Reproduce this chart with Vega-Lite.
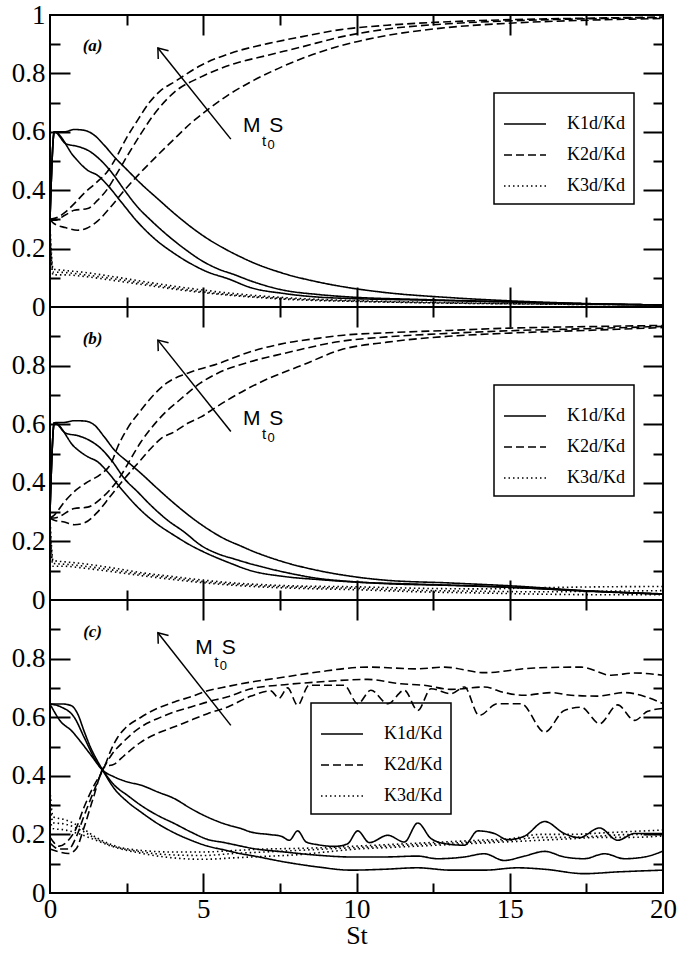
{
"$schema":"https://vega.github.io/schema/vega-lite/v6.json",
"padding":{"left":5,"top":0,"right":0,"bottom":0},
"data":{"values":[
{"p":"a","k":"K1d/Kd","c":"a1","x":0,"y":0.3},{"p":"a","k":"K1d/Kd","c":"a1","x":0.14,"y":0.6},{"p":"a","k":"K1d/Kd","c":"a1","x":0.47,"y":0.6},{"p":"a","k":"K1d/Kd","c":"a1","x":0.79,"y":0.608},{"p":"a","k":"K1d/Kd","c":"a1","x":1.12,"y":0.605},{"p":"a","k":"K1d/Kd","c":"a1","x":1.45,"y":0.588},{"p":"a","k":"K1d/Kd","c":"a1","x":1.77,"y":0.554},{"p":"a","k":"K1d/Kd","c":"a1","x":2.1,"y":0.514},{"p":"a","k":"K1d/Kd","c":"a1","x":2.53,"y":0.468},{"p":"a","k":"K1d/Kd","c":"a1","x":2.97,"y":0.422},{"p":"a","k":"K1d/Kd","c":"a1","x":3.51,"y":0.371},{"p":"a","k":"K1d/Kd","c":"a1","x":4.06,"y":0.32},{"p":"a","k":"K1d/Kd","c":"a1","x":4.6,"y":0.274},{"p":"a","k":"K1d/Kd","c":"a1","x":5.14,"y":0.234},{"p":"a","k":"K1d/Kd","c":"a1","x":5.69,"y":0.2},{"p":"a","k":"K1d/Kd","c":"a1","x":6.23,"y":0.171},{"p":"a","k":"K1d/Kd","c":"a1","x":6.56,"y":0.155},{"p":"a","k":"K1d/Kd","c":"a1","x":7.65,"y":0.114},{"p":"a","k":"K1d/Kd","c":"a1","x":8.73,"y":0.086},{"p":"a","k":"K1d/Kd","c":"a1","x":9.82,"y":0.065},{"p":"a","k":"K1d/Kd","c":"a1","x":10.9,"y":0.05},{"p":"a","k":"K1d/Kd","c":"a1","x":13.08,"y":0.032},{"p":"a","k":"K1d/Kd","c":"a1","x":15.26,"y":0.02},{"p":"a","k":"K1d/Kd","c":"a1","x":17.43,"y":0.012},{"p":"a","k":"K1d/Kd","c":"a1","x":20,"y":0.007},
{"p":"a","k":"K1d/Kd","c":"a2","x":0,"y":0.3},{"p":"a","k":"K1d/Kd","c":"a2","x":0.14,"y":0.6},{"p":"a","k":"K1d/Kd","c":"a2","x":0.52,"y":0.559},{"p":"a","k":"K1d/Kd","c":"a2","x":0.9,"y":0.55},{"p":"a","k":"K1d/Kd","c":"a2","x":1.23,"y":0.537},{"p":"a","k":"K1d/Kd","c":"a2","x":1.66,"y":0.502},{"p":"a","k":"K1d/Kd","c":"a2","x":2.04,"y":0.457},{"p":"a","k":"K1d/Kd","c":"a2","x":2.43,"y":0.4},{"p":"a","k":"K1d/Kd","c":"a2","x":2.86,"y":0.342},{"p":"a","k":"K1d/Kd","c":"a2","x":3.29,"y":0.297},{"p":"a","k":"K1d/Kd","c":"a2","x":3.84,"y":0.245},{"p":"a","k":"K1d/Kd","c":"a2","x":4.38,"y":0.2},{"p":"a","k":"K1d/Kd","c":"a2","x":4.93,"y":0.16},{"p":"a","k":"K1d/Kd","c":"a2","x":5.47,"y":0.131},{"p":"a","k":"K1d/Kd","c":"a2","x":6.01,"y":0.111},{"p":"a","k":"K1d/Kd","c":"a2","x":6.56,"y":0.089},{"p":"a","k":"K1d/Kd","c":"a2","x":7.65,"y":0.057},{"p":"a","k":"K1d/Kd","c":"a2","x":8.73,"y":0.043},{"p":"a","k":"K1d/Kd","c":"a2","x":9.82,"y":0.034},{"p":"a","k":"K1d/Kd","c":"a2","x":12,"y":0.026},{"p":"a","k":"K1d/Kd","c":"a2","x":15,"y":0.018},{"p":"a","k":"K1d/Kd","c":"a2","x":17.5,"y":0.011},{"p":"a","k":"K1d/Kd","c":"a2","x":20,"y":0.007},
{"p":"a","k":"K1d/Kd","c":"a3","x":0,"y":0.3},{"p":"a","k":"K1d/Kd","c":"a3","x":0.14,"y":0.6},{"p":"a","k":"K1d/Kd","c":"a3","x":0.79,"y":0.514},{"p":"a","k":"K1d/Kd","c":"a3","x":1.23,"y":0.468},{"p":"a","k":"K1d/Kd","c":"a3","x":1.55,"y":0.451},{"p":"a","k":"K1d/Kd","c":"a3","x":1.88,"y":0.417},{"p":"a","k":"K1d/Kd","c":"a3","x":2.32,"y":0.36},{"p":"a","k":"K1d/Kd","c":"a3","x":2.86,"y":0.291},{"p":"a","k":"K1d/Kd","c":"a3","x":3.41,"y":0.234},{"p":"a","k":"K1d/Kd","c":"a3","x":4.06,"y":0.183},{"p":"a","k":"K1d/Kd","c":"a3","x":4.6,"y":0.148},{"p":"a","k":"K1d/Kd","c":"a3","x":5.14,"y":0.12},{"p":"a","k":"K1d/Kd","c":"a3","x":5.8,"y":0.097},{"p":"a","k":"K1d/Kd","c":"a3","x":6.56,"y":0.066},{"p":"a","k":"K1d/Kd","c":"a3","x":7.65,"y":0.046},{"p":"a","k":"K1d/Kd","c":"a3","x":8.73,"y":0.034},{"p":"a","k":"K1d/Kd","c":"a3","x":9.82,"y":0.029},{"p":"a","k":"K1d/Kd","c":"a3","x":12,"y":0.024},{"p":"a","k":"K1d/Kd","c":"a3","x":15,"y":0.017},{"p":"a","k":"K1d/Kd","c":"a3","x":17.5,"y":0.011},{"p":"a","k":"K1d/Kd","c":"a3","x":20,"y":0.007},
{"p":"a","k":"K2d/Kd","c":"a4","x":0,"y":0.3},{"p":"a","k":"K2d/Kd","c":"a4","x":0.3,"y":0.31},{"p":"a","k":"K2d/Kd","c":"a4","x":0.5,"y":0.325},{"p":"a","k":"K2d/Kd","c":"a4","x":0.8,"y":0.355},{"p":"a","k":"K2d/Kd","c":"a4","x":1.12,"y":0.39},{"p":"a","k":"K2d/Kd","c":"a4","x":1.5,"y":0.425},{"p":"a","k":"K2d/Kd","c":"a4","x":1.88,"y":0.465},{"p":"a","k":"K2d/Kd","c":"a4","x":2.15,"y":0.51},{"p":"a","k":"K2d/Kd","c":"a4","x":2.48,"y":0.576},{"p":"a","k":"K2d/Kd","c":"a4","x":2.86,"y":0.64},{"p":"a","k":"K2d/Kd","c":"a4","x":3.24,"y":0.7},{"p":"a","k":"K2d/Kd","c":"a4","x":3.6,"y":0.74},{"p":"a","k":"K2d/Kd","c":"a4","x":4.06,"y":0.771},{"p":"a","k":"K2d/Kd","c":"a4","x":4.93,"y":0.828},{"p":"a","k":"K2d/Kd","c":"a4","x":6.01,"y":0.873},{"p":"a","k":"K2d/Kd","c":"a4","x":7.1,"y":0.902},{"p":"a","k":"K2d/Kd","c":"a4","x":8.19,"y":0.925},{"p":"a","k":"K2d/Kd","c":"a4","x":9.49,"y":0.95},{"p":"a","k":"K2d/Kd","c":"a4","x":11,"y":0.965},{"p":"a","k":"K2d/Kd","c":"a4","x":13,"y":0.977},{"p":"a","k":"K2d/Kd","c":"a4","x":15,"y":0.984},{"p":"a","k":"K2d/Kd","c":"a4","x":17.5,"y":0.989},{"p":"a","k":"K2d/Kd","c":"a4","x":20,"y":0.993},
{"p":"a","k":"K2d/Kd","c":"a5","x":0,"y":0.3},{"p":"a","k":"K2d/Kd","c":"a5","x":0.14,"y":0.297},{"p":"a","k":"K2d/Kd","c":"a5","x":0.5,"y":0.315},{"p":"a","k":"K2d/Kd","c":"a5","x":0.79,"y":0.331},{"p":"a","k":"K2d/Kd","c":"a5","x":1.23,"y":0.337},{"p":"a","k":"K2d/Kd","c":"a5","x":1.55,"y":0.365},{"p":"a","k":"K2d/Kd","c":"a5","x":1.88,"y":0.405},{"p":"a","k":"K2d/Kd","c":"a5","x":2.21,"y":0.462},{"p":"a","k":"K2d/Kd","c":"a5","x":2.53,"y":0.519},{"p":"a","k":"K2d/Kd","c":"a5","x":2.97,"y":0.594},{"p":"a","k":"K2d/Kd","c":"a5","x":3.41,"y":0.662},{"p":"a","k":"K2d/Kd","c":"a5","x":4.06,"y":0.736},{"p":"a","k":"K2d/Kd","c":"a5","x":4.93,"y":0.788},{"p":"a","k":"K2d/Kd","c":"a5","x":6.01,"y":0.833},{"p":"a","k":"K2d/Kd","c":"a5","x":7.1,"y":0.862},{"p":"a","k":"K2d/Kd","c":"a5","x":8.19,"y":0.89},{"p":"a","k":"K2d/Kd","c":"a5","x":9.49,"y":0.925},{"p":"a","k":"K2d/Kd","c":"a5","x":11,"y":0.952},{"p":"a","k":"K2d/Kd","c":"a5","x":13,"y":0.97},{"p":"a","k":"K2d/Kd","c":"a5","x":15,"y":0.98},{"p":"a","k":"K2d/Kd","c":"a5","x":17.5,"y":0.987},{"p":"a","k":"K2d/Kd","c":"a5","x":20,"y":0.991},
{"p":"a","k":"K2d/Kd","c":"a6","x":0,"y":0.3},{"p":"a","k":"K2d/Kd","c":"a6","x":0.14,"y":0.285},{"p":"a","k":"K2d/Kd","c":"a6","x":0.5,"y":0.272},{"p":"a","k":"K2d/Kd","c":"a6","x":0.9,"y":0.263},{"p":"a","k":"K2d/Kd","c":"a6","x":1.2,"y":0.27},{"p":"a","k":"K2d/Kd","c":"a6","x":1.56,"y":0.295},{"p":"a","k":"K2d/Kd","c":"a6","x":2,"y":0.345},{"p":"a","k":"K2d/Kd","c":"a6","x":2.43,"y":0.4},{"p":"a","k":"K2d/Kd","c":"a6","x":2.86,"y":0.45},{"p":"a","k":"K2d/Kd","c":"a6","x":3.4,"y":0.508},{"p":"a","k":"K2d/Kd","c":"a6","x":4,"y":0.57},{"p":"a","k":"K2d/Kd","c":"a6","x":4.6,"y":0.63},{"p":"a","k":"K2d/Kd","c":"a6","x":5.2,"y":0.68},{"p":"a","k":"K2d/Kd","c":"a6","x":5.8,"y":0.725},{"p":"a","k":"K2d/Kd","c":"a6","x":6.5,"y":0.768},{"p":"a","k":"K2d/Kd","c":"a6","x":7.3,"y":0.81},{"p":"a","k":"K2d/Kd","c":"a6","x":8.2,"y":0.85},{"p":"a","k":"K2d/Kd","c":"a6","x":9.49,"y":0.895},{"p":"a","k":"K2d/Kd","c":"a6","x":11,"y":0.93},{"p":"a","k":"K2d/Kd","c":"a6","x":12.76,"y":0.955},{"p":"a","k":"K2d/Kd","c":"a6","x":15,"y":0.972},{"p":"a","k":"K2d/Kd","c":"a6","x":17.5,"y":0.982},{"p":"a","k":"K2d/Kd","c":"a6","x":20,"y":0.988},
{"p":"a","k":"K3d/Kd","c":"a7","x":0,"y":0.28},{"p":"a","k":"K3d/Kd","c":"a7","x":0.1,"y":0.13},{"p":"a","k":"K3d/Kd","c":"a7","x":0.5,"y":0.125},{"p":"a","k":"K3d/Kd","c":"a7","x":1,"y":0.12},{"p":"a","k":"K3d/Kd","c":"a7","x":2,"y":0.105},{"p":"a","k":"K3d/Kd","c":"a7","x":3,"y":0.088},{"p":"a","k":"K3d/Kd","c":"a7","x":4,"y":0.072},{"p":"a","k":"K3d/Kd","c":"a7","x":5,"y":0.058},{"p":"a","k":"K3d/Kd","c":"a7","x":6,"y":0.046},{"p":"a","k":"K3d/Kd","c":"a7","x":7,"y":0.037},{"p":"a","k":"K3d/Kd","c":"a7","x":8,"y":0.03},{"p":"a","k":"K3d/Kd","c":"a7","x":10,"y":0.022},{"p":"a","k":"K3d/Kd","c":"a7","x":12,"y":0.017},{"p":"a","k":"K3d/Kd","c":"a7","x":15,"y":0.012},{"p":"a","k":"K3d/Kd","c":"a7","x":20,"y":0.007},
{"p":"a","k":"K3d/Kd","c":"a8","x":0,"y":0.26},{"p":"a","k":"K3d/Kd","c":"a8","x":0.1,"y":0.12},{"p":"a","k":"K3d/Kd","c":"a8","x":0.5,"y":0.118},{"p":"a","k":"K3d/Kd","c":"a8","x":1,"y":0.112},{"p":"a","k":"K3d/Kd","c":"a8","x":2,"y":0.098},{"p":"a","k":"K3d/Kd","c":"a8","x":3,"y":0.082},{"p":"a","k":"K3d/Kd","c":"a8","x":4,"y":0.066},{"p":"a","k":"K3d/Kd","c":"a8","x":5,"y":0.052},{"p":"a","k":"K3d/Kd","c":"a8","x":6,"y":0.041},{"p":"a","k":"K3d/Kd","c":"a8","x":7,"y":0.033},{"p":"a","k":"K3d/Kd","c":"a8","x":8,"y":0.027},{"p":"a","k":"K3d/Kd","c":"a8","x":10,"y":0.02},{"p":"a","k":"K3d/Kd","c":"a8","x":12,"y":0.015},{"p":"a","k":"K3d/Kd","c":"a8","x":15,"y":0.011},{"p":"a","k":"K3d/Kd","c":"a8","x":20,"y":0.007},
{"p":"a","k":"K3d/Kd","c":"a9","x":0,"y":0.24},{"p":"a","k":"K3d/Kd","c":"a9","x":0.1,"y":0.11},{"p":"a","k":"K3d/Kd","c":"a9","x":0.5,"y":0.11},{"p":"a","k":"K3d/Kd","c":"a9","x":1,"y":0.106},{"p":"a","k":"K3d/Kd","c":"a9","x":2,"y":0.092},{"p":"a","k":"K3d/Kd","c":"a9","x":3,"y":0.077},{"p":"a","k":"K3d/Kd","c":"a9","x":4,"y":0.062},{"p":"a","k":"K3d/Kd","c":"a9","x":5,"y":0.049},{"p":"a","k":"K3d/Kd","c":"a9","x":6,"y":0.039},{"p":"a","k":"K3d/Kd","c":"a9","x":7,"y":0.031},{"p":"a","k":"K3d/Kd","c":"a9","x":8,"y":0.025},{"p":"a","k":"K3d/Kd","c":"a9","x":10,"y":0.019},{"p":"a","k":"K3d/Kd","c":"a9","x":12,"y":0.015},{"p":"a","k":"K3d/Kd","c":"a9","x":15,"y":0.011},{"p":"a","k":"K3d/Kd","c":"a9","x":20,"y":0.007},
{"p":"b","k":"K1d/Kd","c":"b1","x":0,"y":0.3},{"p":"b","k":"K1d/Kd","c":"b1","x":0.14,"y":0.605},{"p":"b","k":"K1d/Kd","c":"b1","x":0.47,"y":0.606},{"p":"b","k":"K1d/Kd","c":"b1","x":0.79,"y":0.612},{"p":"b","k":"K1d/Kd","c":"b1","x":1.12,"y":0.611},{"p":"b","k":"K1d/Kd","c":"b1","x":1.45,"y":0.597},{"p":"b","k":"K1d/Kd","c":"b1","x":1.77,"y":0.557},{"p":"b","k":"K1d/Kd","c":"b1","x":2.1,"y":0.512},{"p":"b","k":"K1d/Kd","c":"b1","x":2.53,"y":0.472},{"p":"b","k":"K1d/Kd","c":"b1","x":2.97,"y":0.432},{"p":"b","k":"K1d/Kd","c":"b1","x":3.51,"y":0.38},{"p":"b","k":"K1d/Kd","c":"b1","x":4.06,"y":0.329},{"p":"b","k":"K1d/Kd","c":"b1","x":4.6,"y":0.283},{"p":"b","k":"K1d/Kd","c":"b1","x":5.14,"y":0.243},{"p":"b","k":"K1d/Kd","c":"b1","x":5.69,"y":0.209},{"p":"b","k":"K1d/Kd","c":"b1","x":6.23,"y":0.184},{"p":"b","k":"K1d/Kd","c":"b1","x":6.56,"y":0.169},{"p":"b","k":"K1d/Kd","c":"b1","x":7.65,"y":0.129},{"p":"b","k":"K1d/Kd","c":"b1","x":8.73,"y":0.101},{"p":"b","k":"K1d/Kd","c":"b1","x":9.82,"y":0.081},{"p":"b","k":"K1d/Kd","c":"b1","x":10.9,"y":0.068},{"p":"b","k":"K1d/Kd","c":"b1","x":13.08,"y":0.058},{"p":"b","k":"K1d/Kd","c":"b1","x":15.26,"y":0.047},{"p":"b","k":"K1d/Kd","c":"b1","x":17.43,"y":0.032},{"p":"b","k":"K1d/Kd","c":"b1","x":20,"y":0.021},
{"p":"b","k":"K1d/Kd","c":"b2","x":0,"y":0.3},{"p":"b","k":"K1d/Kd","c":"b2","x":0.14,"y":0.605},{"p":"b","k":"K1d/Kd","c":"b2","x":0.52,"y":0.569},{"p":"b","k":"K1d/Kd","c":"b2","x":0.9,"y":0.561},{"p":"b","k":"K1d/Kd","c":"b2","x":1.23,"y":0.548},{"p":"b","k":"K1d/Kd","c":"b2","x":1.66,"y":0.517},{"p":"b","k":"K1d/Kd","c":"b2","x":2.04,"y":0.472},{"p":"b","k":"K1d/Kd","c":"b2","x":2.43,"y":0.414},{"p":"b","k":"K1d/Kd","c":"b2","x":2.86,"y":0.369},{"p":"b","k":"K1d/Kd","c":"b2","x":3.29,"y":0.323},{"p":"b","k":"K1d/Kd","c":"b2","x":3.84,"y":0.272},{"p":"b","k":"K1d/Kd","c":"b2","x":4.38,"y":0.232},{"p":"b","k":"K1d/Kd","c":"b2","x":4.93,"y":0.186},{"p":"b","k":"K1d/Kd","c":"b2","x":5.47,"y":0.158},{"p":"b","k":"K1d/Kd","c":"b2","x":6.01,"y":0.14},{"p":"b","k":"K1d/Kd","c":"b2","x":6.56,"y":0.123},{"p":"b","k":"K1d/Kd","c":"b2","x":7.65,"y":0.095},{"p":"b","k":"K1d/Kd","c":"b2","x":8.73,"y":0.074},{"p":"b","k":"K1d/Kd","c":"b2","x":9.82,"y":0.063},{"p":"b","k":"K1d/Kd","c":"b2","x":10.9,"y":0.056},{"p":"b","k":"K1d/Kd","c":"b2","x":13,"y":0.05},{"p":"b","k":"K1d/Kd","c":"b2","x":15,"y":0.043},{"p":"b","k":"K1d/Kd","c":"b2","x":17.5,"y":0.031},{"p":"b","k":"K1d/Kd","c":"b2","x":20,"y":0.02},
{"p":"b","k":"K1d/Kd","c":"b3","x":0,"y":0.3},{"p":"b","k":"K1d/Kd","c":"b3","x":0.14,"y":0.605},{"p":"b","k":"K1d/Kd","c":"b3","x":0.79,"y":0.523},{"p":"b","k":"K1d/Kd","c":"b3","x":1.23,"y":0.489},{"p":"b","k":"K1d/Kd","c":"b3","x":1.55,"y":0.472},{"p":"b","k":"K1d/Kd","c":"b3","x":1.88,"y":0.437},{"p":"b","k":"K1d/Kd","c":"b3","x":2.32,"y":0.38},{"p":"b","k":"K1d/Kd","c":"b3","x":2.86,"y":0.317},{"p":"b","k":"K1d/Kd","c":"b3","x":3.41,"y":0.266},{"p":"b","k":"K1d/Kd","c":"b3","x":4.06,"y":0.22},{"p":"b","k":"K1d/Kd","c":"b3","x":4.6,"y":0.186},{"p":"b","k":"K1d/Kd","c":"b3","x":5.14,"y":0.158},{"p":"b","k":"K1d/Kd","c":"b3","x":5.8,"y":0.129},{"p":"b","k":"K1d/Kd","c":"b3","x":6.56,"y":0.1},{"p":"b","k":"K1d/Kd","c":"b3","x":7.65,"y":0.08},{"p":"b","k":"K1d/Kd","c":"b3","x":8.73,"y":0.07},{"p":"b","k":"K1d/Kd","c":"b3","x":9.82,"y":0.062},{"p":"b","k":"K1d/Kd","c":"b3","x":12,"y":0.054},{"p":"b","k":"K1d/Kd","c":"b3","x":15,"y":0.044},{"p":"b","k":"K1d/Kd","c":"b3","x":17.5,"y":0.03},{"p":"b","k":"K1d/Kd","c":"b3","x":20,"y":0.02},
{"p":"b","k":"K2d/Kd","c":"b4","x":0,"y":0.28},{"p":"b","k":"K2d/Kd","c":"b4","x":0.14,"y":0.29},{"p":"b","k":"K2d/Kd","c":"b4","x":0.47,"y":0.335},{"p":"b","k":"K2d/Kd","c":"b4","x":0.79,"y":0.37},{"p":"b","k":"K2d/Kd","c":"b4","x":1.23,"y":0.403},{"p":"b","k":"K2d/Kd","c":"b4","x":1.66,"y":0.43},{"p":"b","k":"K2d/Kd","c":"b4","x":1.99,"y":0.466},{"p":"b","k":"K2d/Kd","c":"b4","x":2.21,"y":0.523},{"p":"b","k":"K2d/Kd","c":"b4","x":2.53,"y":0.586},{"p":"b","k":"K2d/Kd","c":"b4","x":2.97,"y":0.648},{"p":"b","k":"K2d/Kd","c":"b4","x":3.41,"y":0.703},{"p":"b","k":"K2d/Kd","c":"b4","x":3.8,"y":0.74},{"p":"b","k":"K2d/Kd","c":"b4","x":4.49,"y":0.774},{"p":"b","k":"K2d/Kd","c":"b4","x":5.47,"y":0.806},{"p":"b","k":"K2d/Kd","c":"b4","x":6.56,"y":0.848},{"p":"b","k":"K2d/Kd","c":"b4","x":7.65,"y":0.876},{"p":"b","k":"K2d/Kd","c":"b4","x":8.73,"y":0.893},{"p":"b","k":"K2d/Kd","c":"b4","x":9.49,"y":0.903},{"p":"b","k":"K2d/Kd","c":"b4","x":11,"y":0.912},{"p":"b","k":"K2d/Kd","c":"b4","x":13,"y":0.92},{"p":"b","k":"K2d/Kd","c":"b4","x":15,"y":0.928},{"p":"b","k":"K2d/Kd","c":"b4","x":17.5,"y":0.933},{"p":"b","k":"K2d/Kd","c":"b4","x":20,"y":0.937},
{"p":"b","k":"K2d/Kd","c":"b5","x":0,"y":0.28},{"p":"b","k":"K2d/Kd","c":"b5","x":0.14,"y":0.28},{"p":"b","k":"K2d/Kd","c":"b5","x":0.79,"y":0.312},{"p":"b","k":"K2d/Kd","c":"b5","x":1.23,"y":0.317},{"p":"b","k":"K2d/Kd","c":"b5","x":1.66,"y":0.346},{"p":"b","k":"K2d/Kd","c":"b5","x":1.99,"y":0.38},{"p":"b","k":"K2d/Kd","c":"b5","x":2.32,"y":0.426},{"p":"b","k":"K2d/Kd","c":"b5","x":2.64,"y":0.483},{"p":"b","k":"K2d/Kd","c":"b5","x":2.97,"y":0.54},{"p":"b","k":"K2d/Kd","c":"b5","x":3.29,"y":0.585},{"p":"b","k":"K2d/Kd","c":"b5","x":3.73,"y":0.637},{"p":"b","k":"K2d/Kd","c":"b5","x":4.2,"y":0.68},{"p":"b","k":"K2d/Kd","c":"b5","x":4.9,"y":0.74},{"p":"b","k":"K2d/Kd","c":"b5","x":5.47,"y":0.774},{"p":"b","k":"K2d/Kd","c":"b5","x":6.56,"y":0.814},{"p":"b","k":"K2d/Kd","c":"b5","x":7.65,"y":0.842},{"p":"b","k":"K2d/Kd","c":"b5","x":9.49,"y":0.883},{"p":"b","k":"K2d/Kd","c":"b5","x":11,"y":0.898},{"p":"b","k":"K2d/Kd","c":"b5","x":13,"y":0.91},{"p":"b","k":"K2d/Kd","c":"b5","x":15,"y":0.919},{"p":"b","k":"K2d/Kd","c":"b5","x":17.5,"y":0.926},{"p":"b","k":"K2d/Kd","c":"b5","x":20,"y":0.934},
{"p":"b","k":"K2d/Kd","c":"b6","x":0,"y":0.28},{"p":"b","k":"K2d/Kd","c":"b6","x":0.14,"y":0.272},{"p":"b","k":"K2d/Kd","c":"b6","x":0.47,"y":0.266},{"p":"b","k":"K2d/Kd","c":"b6","x":0.79,"y":0.257},{"p":"b","k":"K2d/Kd","c":"b6","x":1.12,"y":0.263},{"p":"b","k":"K2d/Kd","c":"b6","x":1.55,"y":0.3},{"p":"b","k":"K2d/Kd","c":"b6","x":1.99,"y":0.357},{"p":"b","k":"K2d/Kd","c":"b6","x":2.43,"y":0.414},{"p":"b","k":"K2d/Kd","c":"b6","x":2.86,"y":0.466},{"p":"b","k":"K2d/Kd","c":"b6","x":3.29,"y":0.517},{"p":"b","k":"K2d/Kd","c":"b6","x":3.62,"y":0.551},{"p":"b","k":"K2d/Kd","c":"b6","x":4.06,"y":0.574},{"p":"b","k":"K2d/Kd","c":"b6","x":4.49,"y":0.603},{"p":"b","k":"K2d/Kd","c":"b6","x":4.93,"y":0.625},{"p":"b","k":"K2d/Kd","c":"b6","x":5.36,"y":0.654},{"p":"b","k":"K2d/Kd","c":"b6","x":5.8,"y":0.683},{"p":"b","k":"K2d/Kd","c":"b6","x":7,"y":0.75},{"p":"b","k":"K2d/Kd","c":"b6","x":8.2,"y":0.8},{"p":"b","k":"K2d/Kd","c":"b6","x":9.49,"y":0.854},{"p":"b","k":"K2d/Kd","c":"b6","x":11,"y":0.88},{"p":"b","k":"K2d/Kd","c":"b6","x":13,"y":0.9},{"p":"b","k":"K2d/Kd","c":"b6","x":15,"y":0.911},{"p":"b","k":"K2d/Kd","c":"b6","x":17.5,"y":0.92},{"p":"b","k":"K2d/Kd","c":"b6","x":20,"y":0.93},
{"p":"b","k":"K3d/Kd","c":"b7","x":0,"y":0.28},{"p":"b","k":"K3d/Kd","c":"b7","x":0.1,"y":0.135},{"p":"b","k":"K3d/Kd","c":"b7","x":0.5,"y":0.13},{"p":"b","k":"K3d/Kd","c":"b7","x":1,"y":0.125},{"p":"b","k":"K3d/Kd","c":"b7","x":2,"y":0.11},{"p":"b","k":"K3d/Kd","c":"b7","x":3,"y":0.093},{"p":"b","k":"K3d/Kd","c":"b7","x":4,"y":0.08},{"p":"b","k":"K3d/Kd","c":"b7","x":5,"y":0.068},{"p":"b","k":"K3d/Kd","c":"b7","x":6,"y":0.058},{"p":"b","k":"K3d/Kd","c":"b7","x":7,"y":0.052},{"p":"b","k":"K3d/Kd","c":"b7","x":8,"y":0.048},{"p":"b","k":"K3d/Kd","c":"b7","x":10,"y":0.045},{"p":"b","k":"K3d/Kd","c":"b7","x":12,"y":0.04},{"p":"b","k":"K3d/Kd","c":"b7","x":14,"y":0.038},{"p":"b","k":"K3d/Kd","c":"b7","x":16,"y":0.042},{"p":"b","k":"K3d/Kd","c":"b7","x":18,"y":0.045},{"p":"b","k":"K3d/Kd","c":"b7","x":20,"y":0.046},
{"p":"b","k":"K3d/Kd","c":"b8","x":0,"y":0.26},{"p":"b","k":"K3d/Kd","c":"b8","x":0.1,"y":0.125},{"p":"b","k":"K3d/Kd","c":"b8","x":0.5,"y":0.122},{"p":"b","k":"K3d/Kd","c":"b8","x":1,"y":0.117},{"p":"b","k":"K3d/Kd","c":"b8","x":2,"y":0.103},{"p":"b","k":"K3d/Kd","c":"b8","x":3,"y":0.088},{"p":"b","k":"K3d/Kd","c":"b8","x":4,"y":0.075},{"p":"b","k":"K3d/Kd","c":"b8","x":5,"y":0.063},{"p":"b","k":"K3d/Kd","c":"b8","x":6,"y":0.054},{"p":"b","k":"K3d/Kd","c":"b8","x":7,"y":0.048},{"p":"b","k":"K3d/Kd","c":"b8","x":8,"y":0.044},{"p":"b","k":"K3d/Kd","c":"b8","x":10,"y":0.04},{"p":"b","k":"K3d/Kd","c":"b8","x":12,"y":0.033},{"p":"b","k":"K3d/Kd","c":"b8","x":14,"y":0.03},{"p":"b","k":"K3d/Kd","c":"b8","x":16,"y":0.028},{"p":"b","k":"K3d/Kd","c":"b8","x":18,"y":0.03},{"p":"b","k":"K3d/Kd","c":"b8","x":20,"y":0.032},
{"p":"b","k":"K3d/Kd","c":"b9","x":0,"y":0.24},{"p":"b","k":"K3d/Kd","c":"b9","x":0.1,"y":0.115},{"p":"b","k":"K3d/Kd","c":"b9","x":0.5,"y":0.115},{"p":"b","k":"K3d/Kd","c":"b9","x":1,"y":0.11},{"p":"b","k":"K3d/Kd","c":"b9","x":2,"y":0.097},{"p":"b","k":"K3d/Kd","c":"b9","x":3,"y":0.083},{"p":"b","k":"K3d/Kd","c":"b9","x":4,"y":0.07},{"p":"b","k":"K3d/Kd","c":"b9","x":5,"y":0.059},{"p":"b","k":"K3d/Kd","c":"b9","x":6,"y":0.05},{"p":"b","k":"K3d/Kd","c":"b9","x":7,"y":0.044},{"p":"b","k":"K3d/Kd","c":"b9","x":8,"y":0.04},{"p":"b","k":"K3d/Kd","c":"b9","x":10,"y":0.035},{"p":"b","k":"K3d/Kd","c":"b9","x":12,"y":0.028},{"p":"b","k":"K3d/Kd","c":"b9","x":14,"y":0.024},{"p":"b","k":"K3d/Kd","c":"b9","x":16,"y":0.02},{"p":"b","k":"K3d/Kd","c":"b9","x":18,"y":0.018},{"p":"b","k":"K3d/Kd","c":"b9","x":20,"y":0.018},
{"p":"c","k":"K1d/Kd","c":"c1","x":0,"y":0.645},{"p":"c","k":"K1d/Kd","c":"c1","x":0.4,"y":0.645},{"p":"c","k":"K1d/Kd","c":"c1","x":0.685,"y":0.64},{"p":"c","k":"K1d/Kd","c":"c1","x":0.9,"y":0.612},{"p":"c","k":"K1d/Kd","c":"c1","x":1.12,"y":0.55},{"p":"c","k":"K1d/Kd","c":"c1","x":1.34,"y":0.493},{"p":"c","k":"K1d/Kd","c":"c1","x":1.55,"y":0.45},{"p":"c","k":"K1d/Kd","c":"c1","x":1.72,"y":0.419},{"p":"c","k":"K1d/Kd","c":"c1","x":2.1,"y":0.356},{"p":"c","k":"K1d/Kd","c":"c1","x":2.53,"y":0.311},{"p":"c","k":"K1d/Kd","c":"c1","x":2.97,"y":0.276},{"p":"c","k":"K1d/Kd","c":"c1","x":3.51,"y":0.237},{"p":"c","k":"K1d/Kd","c":"c1","x":4.06,"y":0.205},{"p":"c","k":"K1d/Kd","c":"c1","x":4.6,"y":0.18},{"p":"c","k":"K1d/Kd","c":"c1","x":5.14,"y":0.16},{"p":"c","k":"K1d/Kd","c":"c1","x":5.69,"y":0.147},{"p":"c","k":"K1d/Kd","c":"c1","x":6.23,"y":0.134},{"p":"c","k":"K1d/Kd","c":"c1","x":6.56,"y":0.128},{"p":"c","k":"K1d/Kd","c":"c1","x":7.65,"y":0.106},{"p":"c","k":"K1d/Kd","c":"c1","x":8.73,"y":0.089},{"p":"c","k":"K1d/Kd","c":"c1","x":9.82,"y":0.078},{"p":"c","k":"K1d/Kd","c":"c1","x":10.9,"y":0.081},{"p":"c","k":"K1d/Kd","c":"c1","x":11.99,"y":0.086},{"p":"c","k":"K1d/Kd","c":"c1","x":13.08,"y":0.078},{"p":"c","k":"K1d/Kd","c":"c1","x":14.17,"y":0.078},{"p":"c","k":"K1d/Kd","c":"c1","x":15.26,"y":0.086},{"p":"c","k":"K1d/Kd","c":"c1","x":16.14,"y":0.081},{"p":"c","k":"K1d/Kd","c":"c1","x":17.43,"y":0.066},{"p":"c","k":"K1d/Kd","c":"c1","x":18.52,"y":0.072},{"p":"c","k":"K1d/Kd","c":"c1","x":20,"y":0.078},
{"p":"c","k":"K1d/Kd","c":"c2","x":0,"y":0.645},{"p":"c","k":"K1d/Kd","c":"c2","x":0.36,"y":0.635},{"p":"c","k":"K1d/Kd","c":"c2","x":0.79,"y":0.6},{"p":"c","k":"K1d/Kd","c":"c2","x":1.12,"y":0.53},{"p":"c","k":"K1d/Kd","c":"c2","x":1.45,"y":0.46},{"p":"c","k":"K1d/Kd","c":"c2","x":1.72,"y":0.419},{"p":"c","k":"K1d/Kd","c":"c2","x":2.1,"y":0.368},{"p":"c","k":"K1d/Kd","c":"c2","x":2.53,"y":0.333},{"p":"c","k":"K1d/Kd","c":"c2","x":2.97,"y":0.299},{"p":"c","k":"K1d/Kd","c":"c2","x":3.51,"y":0.265},{"p":"c","k":"K1d/Kd","c":"c2","x":4.06,"y":0.237},{"p":"c","k":"K1d/Kd","c":"c2","x":4.6,"y":0.208},{"p":"c","k":"K1d/Kd","c":"c2","x":5.14,"y":0.183},{"p":"c","k":"K1d/Kd","c":"c2","x":5.69,"y":0.172},{"p":"c","k":"K1d/Kd","c":"c2","x":6.23,"y":0.16},{"p":"c","k":"K1d/Kd","c":"c2","x":6.56,"y":0.153},{"p":"c","k":"K1d/Kd","c":"c2","x":7.65,"y":0.14},{"p":"c","k":"K1d/Kd","c":"c2","x":8.73,"y":0.129},{"p":"c","k":"K1d/Kd","c":"c2","x":9.82,"y":0.123},{"p":"c","k":"K1d/Kd","c":"c2","x":10.9,"y":0.123},{"p":"c","k":"K1d/Kd","c":"c2","x":11.99,"y":0.126},{"p":"c","k":"K1d/Kd","c":"c2","x":12.64,"y":0.117},{"p":"c","k":"K1d/Kd","c":"c2","x":13.52,"y":0.123},{"p":"c","k":"K1d/Kd","c":"c2","x":14.17,"y":0.134},{"p":"c","k":"K1d/Kd","c":"c2","x":14.82,"y":0.111},{"p":"c","k":"K1d/Kd","c":"c2","x":15.48,"y":0.126},{"p":"c","k":"K1d/Kd","c":"c2","x":16.14,"y":0.142},{"p":"c","k":"K1d/Kd","c":"c2","x":16.78,"y":0.123},{"p":"c","k":"K1d/Kd","c":"c2","x":17.43,"y":0.117},{"p":"c","k":"K1d/Kd","c":"c2","x":18.09,"y":0.134},{"p":"c","k":"K1d/Kd","c":"c2","x":18.74,"y":0.117},{"p":"c","k":"K1d/Kd","c":"c2","x":19.4,"y":0.123},{"p":"c","k":"K1d/Kd","c":"c2","x":20,"y":0.143},
{"p":"c","k":"K1d/Kd","c":"c3","x":0,"y":0.645},{"p":"c","k":"K1d/Kd","c":"c3","x":0.36,"y":0.584},{"p":"c","k":"K1d/Kd","c":"c3","x":0.69,"y":0.555},{"p":"c","k":"K1d/Kd","c":"c3","x":1.01,"y":0.515},{"p":"c","k":"K1d/Kd","c":"c3","x":1.34,"y":0.47},{"p":"c","k":"K1d/Kd","c":"c3","x":1.72,"y":0.419},{"p":"c","k":"K1d/Kd","c":"c3","x":2.1,"y":0.396},{"p":"c","k":"K1d/Kd","c":"c3","x":2.53,"y":0.379},{"p":"c","k":"K1d/Kd","c":"c3","x":2.97,"y":0.368},{"p":"c","k":"K1d/Kd","c":"c3","x":3.51,"y":0.345},{"p":"c","k":"K1d/Kd","c":"c3","x":4.06,"y":0.322},{"p":"c","k":"K1d/Kd","c":"c3","x":4.6,"y":0.288},{"p":"c","k":"K1d/Kd","c":"c3","x":5.14,"y":0.259},{"p":"c","k":"K1d/Kd","c":"c3","x":5.69,"y":0.236},{"p":"c","k":"K1d/Kd","c":"c3","x":6.23,"y":0.22},{"p":"c","k":"K1d/Kd","c":"c3","x":6.56,"y":0.208},{"p":"c","k":"K1d/Kd","c":"c3","x":7.21,"y":0.199},{"p":"c","k":"K1d/Kd","c":"c3","x":7.54,"y":0.194},{"p":"c","k":"K1d/Kd","c":"c3","x":7.81,"y":0.18},{"p":"c","k":"K1d/Kd","c":"c3","x":8.08,"y":0.212},{"p":"c","k":"K1d/Kd","c":"c3","x":8.36,"y":0.174},{"p":"c","k":"K1d/Kd","c":"c3","x":8.73,"y":0.165},{"p":"c","k":"K1d/Kd","c":"c3","x":9.28,"y":0.159},{"p":"c","k":"K1d/Kd","c":"c3","x":9.71,"y":0.168},{"p":"c","k":"K1d/Kd","c":"c3","x":10.04,"y":0.212},{"p":"c","k":"K1d/Kd","c":"c3","x":10.42,"y":0.172},{"p":"c","k":"K1d/Kd","c":"c3","x":11.02,"y":0.197},{"p":"c","k":"K1d/Kd","c":"c3","x":11.56,"y":0.174},{"p":"c","k":"K1d/Kd","c":"c3","x":12,"y":0.239},{"p":"c","k":"K1d/Kd","c":"c3","x":12.43,"y":0.186},{"p":"c","k":"K1d/Kd","c":"c3","x":12.92,"y":0.168},{"p":"c","k":"K1d/Kd","c":"c3","x":13.52,"y":0.163},{"p":"c","k":"K1d/Kd","c":"c3","x":13.96,"y":0.212},{"p":"c","k":"K1d/Kd","c":"c3","x":14.5,"y":0.203},{"p":"c","k":"K1d/Kd","c":"c3","x":14.93,"y":0.182},{"p":"c","k":"K1d/Kd","c":"c3","x":15.48,"y":0.194},{"p":"c","k":"K1d/Kd","c":"c3","x":16.14,"y":0.244},{"p":"c","k":"K1d/Kd","c":"c3","x":16.78,"y":0.203},{"p":"c","k":"K1d/Kd","c":"c3","x":17.27,"y":0.189},{"p":"c","k":"K1d/Kd","c":"c3","x":17.93,"y":0.222},{"p":"c","k":"K1d/Kd","c":"c3","x":18.52,"y":0.18},{"p":"c","k":"K1d/Kd","c":"c3","x":19.07,"y":0.203},{"p":"c","k":"K1d/Kd","c":"c3","x":20,"y":0.203},
{"p":"c","k":"K2d/Kd","c":"c4","x":0,"y":0.19},{"p":"c","k":"K2d/Kd","c":"c4","x":0.3,"y":0.16},{"p":"c","k":"K2d/Kd","c":"c4","x":0.6,"y":0.18},{"p":"c","k":"K2d/Kd","c":"c4","x":0.85,"y":0.22},{"p":"c","k":"K2d/Kd","c":"c4","x":1.1,"y":0.29},{"p":"c","k":"K2d/Kd","c":"c4","x":1.4,"y":0.36},{"p":"c","k":"K2d/Kd","c":"c4","x":1.77,"y":0.43},{"p":"c","k":"K2d/Kd","c":"c4","x":2,"y":0.49},{"p":"c","k":"K2d/Kd","c":"c4","x":2.2,"y":0.53},{"p":"c","k":"K2d/Kd","c":"c4","x":2.43,"y":0.56},{"p":"c","k":"K2d/Kd","c":"c4","x":2.97,"y":0.6},{"p":"c","k":"K2d/Kd","c":"c4","x":3.5,"y":0.63},{"p":"c","k":"K2d/Kd","c":"c4","x":4.06,"y":0.652},{"p":"c","k":"K2d/Kd","c":"c4","x":4.6,"y":0.67},{"p":"c","k":"K2d/Kd","c":"c4","x":5.14,"y":0.69},{"p":"c","k":"K2d/Kd","c":"c4","x":5.8,"y":0.705},{"p":"c","k":"K2d/Kd","c":"c4","x":6.56,"y":0.72},{"p":"c","k":"K2d/Kd","c":"c4","x":7.65,"y":0.737},{"p":"c","k":"K2d/Kd","c":"c4","x":8.73,"y":0.754},{"p":"c","k":"K2d/Kd","c":"c4","x":10.36,"y":0.771},{"p":"c","k":"K2d/Kd","c":"c4","x":11.99,"y":0.765},{"p":"c","k":"K2d/Kd","c":"c4","x":12.87,"y":0.771},{"p":"c","k":"K2d/Kd","c":"c4","x":14.17,"y":0.752},{"p":"c","k":"K2d/Kd","c":"c4","x":15.8,"y":0.768},{"p":"c","k":"K2d/Kd","c":"c4","x":17.33,"y":0.771},{"p":"c","k":"K2d/Kd","c":"c4","x":18.31,"y":0.743},{"p":"c","k":"K2d/Kd","c":"c4","x":19.07,"y":0.751},{"p":"c","k":"K2d/Kd","c":"c4","x":20,"y":0.743},
{"p":"c","k":"K2d/Kd","c":"c5","x":0,"y":0.17},{"p":"c","k":"K2d/Kd","c":"c5","x":0.3,"y":0.15},{"p":"c","k":"K2d/Kd","c":"c5","x":0.6,"y":0.15},{"p":"c","k":"K2d/Kd","c":"c5","x":0.85,"y":0.19},{"p":"c","k":"K2d/Kd","c":"c5","x":1.1,"y":0.26},{"p":"c","k":"K2d/Kd","c":"c5","x":1.4,"y":0.34},{"p":"c","k":"K2d/Kd","c":"c5","x":1.77,"y":0.43},{"p":"c","k":"K2d/Kd","c":"c5","x":2,"y":0.47},{"p":"c","k":"K2d/Kd","c":"c5","x":2.43,"y":0.52},{"p":"c","k":"K2d/Kd","c":"c5","x":2.97,"y":0.567},{"p":"c","k":"K2d/Kd","c":"c5","x":3.5,"y":0.595},{"p":"c","k":"K2d/Kd","c":"c5","x":4.06,"y":0.618},{"p":"c","k":"K2d/Kd","c":"c5","x":4.6,"y":0.635},{"p":"c","k":"K2d/Kd","c":"c5","x":5.14,"y":0.652},{"p":"c","k":"K2d/Kd","c":"c5","x":5.8,"y":0.67},{"p":"c","k":"K2d/Kd","c":"c5","x":6.56,"y":0.697},{"p":"c","k":"K2d/Kd","c":"c5","x":7.65,"y":0.711},{"p":"c","k":"K2d/Kd","c":"c5","x":8.73,"y":0.72},{"p":"c","k":"K2d/Kd","c":"c5","x":10.36,"y":0.729},{"p":"c","k":"K2d/Kd","c":"c5","x":11.45,"y":0.714},{"p":"c","k":"K2d/Kd","c":"c5","x":12.2,"y":0.709},{"p":"c","k":"K2d/Kd","c":"c5","x":13.08,"y":0.695},{"p":"c","k":"K2d/Kd","c":"c5","x":14.17,"y":0.703},{"p":"c","k":"K2d/Kd","c":"c5","x":14.82,"y":0.684},{"p":"c","k":"K2d/Kd","c":"c5","x":15.48,"y":0.675},{"p":"c","k":"K2d/Kd","c":"c5","x":16.35,"y":0.684},{"p":"c","k":"K2d/Kd","c":"c5","x":17,"y":0.675},{"p":"c","k":"K2d/Kd","c":"c5","x":17.87,"y":0.672},{"p":"c","k":"K2d/Kd","c":"c5","x":18.74,"y":0.684},{"p":"c","k":"K2d/Kd","c":"c5","x":19.4,"y":0.671},{"p":"c","k":"K2d/Kd","c":"c5","x":20,"y":0.646},
{"p":"c","k":"K2d/Kd","c":"c6","x":0,"y":0.15},{"p":"c","k":"K2d/Kd","c":"c6","x":0.3,"y":0.14},{"p":"c","k":"K2d/Kd","c":"c6","x":0.6,"y":0.135},{"p":"c","k":"K2d/Kd","c":"c6","x":0.85,"y":0.15},{"p":"c","k":"K2d/Kd","c":"c6","x":1.1,"y":0.22},{"p":"c","k":"K2d/Kd","c":"c6","x":1.4,"y":0.32},{"p":"c","k":"K2d/Kd","c":"c6","x":1.77,"y":0.43},{"p":"c","k":"K2d/Kd","c":"c6","x":2.1,"y":0.44},{"p":"c","k":"K2d/Kd","c":"c6","x":2.43,"y":0.47},{"p":"c","k":"K2d/Kd","c":"c6","x":2.97,"y":0.515},{"p":"c","k":"K2d/Kd","c":"c6","x":3.5,"y":0.545},{"p":"c","k":"K2d/Kd","c":"c6","x":4.06,"y":0.567},{"p":"c","k":"K2d/Kd","c":"c6","x":4.6,"y":0.59},{"p":"c","k":"K2d/Kd","c":"c6","x":5.14,"y":0.612},{"p":"c","k":"K2d/Kd","c":"c6","x":5.8,"y":0.635},{"p":"c","k":"K2d/Kd","c":"c6","x":6.56,"y":0.672},{"p":"c","k":"K2d/Kd","c":"c6","x":7.2,"y":0.69},{"p":"c","k":"K2d/Kd","c":"c6","x":7.47,"y":0.665},{"p":"c","k":"K2d/Kd","c":"c6","x":7.75,"y":0.7},{"p":"c","k":"K2d/Kd","c":"c6","x":8.08,"y":0.641},{"p":"c","k":"K2d/Kd","c":"c6","x":8.45,"y":0.709},{"p":"c","k":"K2d/Kd","c":"c6","x":9.06,"y":0.709},{"p":"c","k":"K2d/Kd","c":"c6","x":9.6,"y":0.709},{"p":"c","k":"K2d/Kd","c":"c6","x":10.04,"y":0.646},{"p":"c","k":"K2d/Kd","c":"c6","x":10.47,"y":0.692},{"p":"c","k":"K2d/Kd","c":"c6","x":11.02,"y":0.646},{"p":"c","k":"K2d/Kd","c":"c6","x":11.56,"y":0.692},{"p":"c","k":"K2d/Kd","c":"c6","x":12,"y":0.623},{"p":"c","k":"K2d/Kd","c":"c6","x":12.43,"y":0.697},{"p":"c","k":"K2d/Kd","c":"c6","x":13.08,"y":0.68},{"p":"c","k":"K2d/Kd","c":"c6","x":13.52,"y":0.703},{"p":"c","k":"K2d/Kd","c":"c6","x":14,"y":0.606},{"p":"c","k":"K2d/Kd","c":"c6","x":14.6,"y":0.646},{"p":"c","k":"K2d/Kd","c":"c6","x":15.37,"y":0.646},{"p":"c","k":"K2d/Kd","c":"c6","x":16.14,"y":0.549},{"p":"c","k":"K2d/Kd","c":"c6","x":16.78,"y":0.623},{"p":"c","k":"K2d/Kd","c":"c6","x":17.33,"y":0.634},{"p":"c","k":"K2d/Kd","c":"c6","x":17.93,"y":0.578},{"p":"c","k":"K2d/Kd","c":"c6","x":18.52,"y":0.642},{"p":"c","k":"K2d/Kd","c":"c6","x":19.07,"y":0.589},{"p":"c","k":"K2d/Kd","c":"c6","x":19.5,"y":0.62},{"p":"c","k":"K2d/Kd","c":"c6","x":20,"y":0.63},
{"p":"c","k":"K3d/Kd","c":"c7","x":0,"y":0.35},{"p":"c","k":"K3d/Kd","c":"c7","x":0.1,"y":0.26},{"p":"c","k":"K3d/Kd","c":"c7","x":0.5,"y":0.25},{"p":"c","k":"K3d/Kd","c":"c7","x":1,"y":0.225},{"p":"c","k":"K3d/Kd","c":"c7","x":1.5,"y":0.19},{"p":"c","k":"K3d/Kd","c":"c7","x":2,"y":0.165},{"p":"c","k":"K3d/Kd","c":"c7","x":3,"y":0.145},{"p":"c","k":"K3d/Kd","c":"c7","x":4,"y":0.14},{"p":"c","k":"K3d/Kd","c":"c7","x":5,"y":0.14},{"p":"c","k":"K3d/Kd","c":"c7","x":6,"y":0.145},{"p":"c","k":"K3d/Kd","c":"c7","x":7,"y":0.15},{"p":"c","k":"K3d/Kd","c":"c7","x":8,"y":0.152},{"p":"c","k":"K3d/Kd","c":"c7","x":9,"y":0.155},{"p":"c","k":"K3d/Kd","c":"c7","x":10,"y":0.16},{"p":"c","k":"K3d/Kd","c":"c7","x":11,"y":0.165},{"p":"c","k":"K3d/Kd","c":"c7","x":12,"y":0.17},{"p":"c","k":"K3d/Kd","c":"c7","x":13,"y":0.175},{"p":"c","k":"K3d/Kd","c":"c7","x":14,"y":0.18},{"p":"c","k":"K3d/Kd","c":"c7","x":15,"y":0.185},{"p":"c","k":"K3d/Kd","c":"c7","x":16,"y":0.2},{"p":"c","k":"K3d/Kd","c":"c7","x":17,"y":0.2},{"p":"c","k":"K3d/Kd","c":"c7","x":18,"y":0.205},{"p":"c","k":"K3d/Kd","c":"c7","x":19,"y":0.21},{"p":"c","k":"K3d/Kd","c":"c7","x":20,"y":0.215},
{"p":"c","k":"K3d/Kd","c":"c8","x":0,"y":0.3},{"p":"c","k":"K3d/Kd","c":"c8","x":0.1,"y":0.24},{"p":"c","k":"K3d/Kd","c":"c8","x":0.5,"y":0.235},{"p":"c","k":"K3d/Kd","c":"c8","x":1,"y":0.215},{"p":"c","k":"K3d/Kd","c":"c8","x":1.5,"y":0.185},{"p":"c","k":"K3d/Kd","c":"c8","x":2,"y":0.162},{"p":"c","k":"K3d/Kd","c":"c8","x":3,"y":0.14},{"p":"c","k":"K3d/Kd","c":"c8","x":4,"y":0.13},{"p":"c","k":"K3d/Kd","c":"c8","x":5,"y":0.128},{"p":"c","k":"K3d/Kd","c":"c8","x":6,"y":0.135},{"p":"c","k":"K3d/Kd","c":"c8","x":7,"y":0.14},{"p":"c","k":"K3d/Kd","c":"c8","x":8,"y":0.145},{"p":"c","k":"K3d/Kd","c":"c8","x":9,"y":0.15},{"p":"c","k":"K3d/Kd","c":"c8","x":10,"y":0.155},{"p":"c","k":"K3d/Kd","c":"c8","x":11,"y":0.16},{"p":"c","k":"K3d/Kd","c":"c8","x":12,"y":0.165},{"p":"c","k":"K3d/Kd","c":"c8","x":13,"y":0.17},{"p":"c","k":"K3d/Kd","c":"c8","x":14,"y":0.175},{"p":"c","k":"K3d/Kd","c":"c8","x":15,"y":0.18},{"p":"c","k":"K3d/Kd","c":"c8","x":16,"y":0.19},{"p":"c","k":"K3d/Kd","c":"c8","x":17,"y":0.19},{"p":"c","k":"K3d/Kd","c":"c8","x":18,"y":0.195},{"p":"c","k":"K3d/Kd","c":"c8","x":19,"y":0.2},{"p":"c","k":"K3d/Kd","c":"c8","x":20,"y":0.2},
{"p":"c","k":"K3d/Kd","c":"c9","x":0,"y":0.25},{"p":"c","k":"K3d/Kd","c":"c9","x":0.1,"y":0.22},{"p":"c","k":"K3d/Kd","c":"c9","x":0.5,"y":0.215},{"p":"c","k":"K3d/Kd","c":"c9","x":1,"y":0.2},{"p":"c","k":"K3d/Kd","c":"c9","x":1.5,"y":0.18},{"p":"c","k":"K3d/Kd","c":"c9","x":2,"y":0.16},{"p":"c","k":"K3d/Kd","c":"c9","x":3,"y":0.135},{"p":"c","k":"K3d/Kd","c":"c9","x":4,"y":0.12},{"p":"c","k":"K3d/Kd","c":"c9","x":5,"y":0.115},{"p":"c","k":"K3d/Kd","c":"c9","x":6,"y":0.12},{"p":"c","k":"K3d/Kd","c":"c9","x":7,"y":0.125},{"p":"c","k":"K3d/Kd","c":"c9","x":8,"y":0.13},{"p":"c","k":"K3d/Kd","c":"c9","x":9,"y":0.14},{"p":"c","k":"K3d/Kd","c":"c9","x":10,"y":0.15},{"p":"c","k":"K3d/Kd","c":"c9","x":11,"y":0.155},{"p":"c","k":"K3d/Kd","c":"c9","x":12,"y":0.16},{"p":"c","k":"K3d/Kd","c":"c9","x":13,"y":0.165},{"p":"c","k":"K3d/Kd","c":"c9","x":14,"y":0.17},{"p":"c","k":"K3d/Kd","c":"c9","x":15,"y":0.175},{"p":"c","k":"K3d/Kd","c":"c9","x":16,"y":0.18},{"p":"c","k":"K3d/Kd","c":"c9","x":17,"y":0.185},{"p":"c","k":"K3d/Kd","c":"c9","x":18,"y":0.19},{"p":"c","k":"K3d/Kd","c":"c9","x":19,"y":0.19},{"p":"c","k":"K3d/Kd","c":"c9","x":20,"y":0.195}
]},
"vconcat":[
{"width":613,"height":292,
 "layer":[
  {"transform":[{"filter":"datum.p == 'a'"}],
   "mark":{"type":"line","color":"black","strokeWidth":1.6,"interpolate":"monotone"},
   "encoding":{
    "x":{"field":"x","type":"quantitative","scale":{"domain":[0,20]},"axis":null},
    "y":{"field":"y","type":"quantitative","scale":{"domain":[0,1]},"axis":{"orient":"left","values":[0,0.2,0.4,0.6,0.8,1],"format":"~g","ticks":false,"title":null,"labelPadding":5,"minExtent":44,"maxExtent":44}},
    "strokeDash":{"field":"k","type":"nominal","scale":{"domain":["K1d/Kd","K2d/Kd","K3d/Kd"],"range":[[1,0],[8,4],[1.5,3]]},"legend":{"title":null,"orient":"none","legendX":444,"legendY":78}},
    "detail":{"field":"c","type":"nominal"}}},
  {"data":{"values":[{}]},"mark":{"type":"rule","color":"black","strokeWidth":1.5},
   "encoding":{
    "x":{"datum":5.9,"type":"quantitative","scale":{"domain":[0,20]},"axis":{"orient":"bottom","values":[5,10,15],"labels":false,"tickSize":-20,"title":null,"minExtent":0}},
    "y":{"datum":0.575,"type":"quantitative","scale":{"domain":[0,1]},"axis":{"orient":"left","values":[0.2,0.4,0.6,0.8],"labels":false,"tickSize":-20,"title":null,"minExtent":0}},
    "x2":{"datum":3.52},"y2":{"datum":0.887}}},
  {"data":{"values":[{}]},"mark":{"type":"point","shape":"M-0.6,0.8L0,0L0.6,0.8","filled":false,"size":484,"angle":-38.7,"color":"black","strokeWidth":1.5,"opacity":1},
   "encoding":{
    "x":{"datum":3.52,"type":"quantitative","scale":{"domain":[0,20]},"axis":{"orient":"bottom","values":[2.5,7.5,12.5,17.5],"labels":false,"tickSize":-10,"title":null,"minExtent":0}},
    "y":{"datum":0.887,"type":"quantitative","scale":{"domain":[0,1]},"axis":{"orient":"left","values":[0.1,0.3,0.5,0.7,0.9],"labels":false,"tickSize":-10,"title":null,"minExtent":0}}}},
  {"data":{"values":[{}]},"mark":{"type":"text","text":"(a)","font":"Liberation Serif","fontStyle":"italic","fontWeight":"bold","fontSize":17,"align":"center","baseline":"middle"},
   "encoding":{
    "x":{"datum":1.39,"type":"quantitative","scale":{"domain":[0,20]},"axis":{"orient":"top","values":[5,10,15],"labels":false,"tickSize":-20,"title":null,"minExtent":0}},
    "y":{"datum":0.893,"type":"quantitative","scale":{"domain":[0,1]},"axis":{"orient":"right","values":[0.2,0.4,0.6,0.8],"labels":false,"tickSize":-20,"title":null,"minExtent":0}}}},
  {"data":{"values":[{}]},"mark":{"type":"text","text":"M","fontSize":21,"align":"left","baseline":"alphabetic"},
   "encoding":{
    "x":{"datum":6.3,"type":"quantitative","scale":{"domain":[0,20]},"axis":{"orient":"top","values":[2.5,7.5,12.5,17.5],"labels":false,"tickSize":-10,"title":null,"minExtent":0}},
    "y":{"datum":0.598,"type":"quantitative","scale":{"domain":[0,1]},"axis":{"orient":"right","values":[0.1,0.3,0.5,0.7,0.9],"labels":false,"tickSize":-10,"title":null,"minExtent":0}}}},
  {"data":{"values":[{}]},"mark":{"type":"text","text":"t","fontSize":15,"align":"left","baseline":"alphabetic"},
   "encoding":{"x":{"datum":6.92,"type":"quantitative","scale":{"domain":[0,20]},"axis":null},"y":{"datum":0.551,"type":"quantitative","scale":{"domain":[0,1]},"axis":null}}},
  {"data":{"values":[{}]},"mark":{"type":"text","text":"0","fontSize":13,"align":"left","baseline":"alphabetic"},
   "encoding":{"x":{"datum":7.1,"type":"quantitative","scale":{"domain":[0,20]},"axis":null},"y":{"datum":0.54,"type":"quantitative","scale":{"domain":[0,1]},"axis":null}}},
  {"data":{"values":[{}]},"mark":{"type":"text","text":"S","fontSize":21,"align":"left","baseline":"alphabetic"},
   "encoding":{"x":{"datum":7.15,"type":"quantitative","scale":{"domain":[0,20]},"axis":null},"y":{"datum":0.598,"type":"quantitative","scale":{"domain":[0,1]},"axis":null}}}
 ],
 "resolve":{"axis":{"x":"independent","y":"independent"}}},
{"width":613,"height":293,
 "layer":[
  {"transform":[{"filter":"datum.p == 'b'"}],
   "mark":{"type":"line","color":"black","strokeWidth":1.6,"interpolate":"monotone"},
   "encoding":{
    "x":{"field":"x","type":"quantitative","scale":{"domain":[0,20]},"axis":null},
    "y":{"field":"y","type":"quantitative","scale":{"domain":[0,1]},"axis":{"orient":"left","values":[0,0.2,0.4,0.6,0.8],"format":"~g","ticks":false,"title":null,"labelPadding":5,"minExtent":44,"maxExtent":44}},
    "strokeDash":{"field":"k","type":"nominal","scale":{"domain":["K1d/Kd","K2d/Kd","K3d/Kd"],"range":[[1,0],[8,4],[1.5,3]]},"legend":{"title":null,"orient":"none","legendX":444,"legendY":78}},
    "detail":{"field":"c","type":"nominal"}}},
  {"data":{"values":[{}]},"mark":{"type":"rule","color":"black","strokeWidth":1.5},
   "encoding":{
    "x":{"datum":5.9,"type":"quantitative","scale":{"domain":[0,20]},"axis":{"orient":"bottom","values":[5,10,15],"labels":false,"tickSize":-20,"title":null,"minExtent":0}},
    "y":{"datum":0.575,"type":"quantitative","scale":{"domain":[0,1]},"axis":{"orient":"left","values":[0.2,0.4,0.6,0.8],"labels":false,"tickSize":-20,"title":null,"minExtent":0}},
    "x2":{"datum":3.52},"y2":{"datum":0.887}}},
  {"data":{"values":[{}]},"mark":{"type":"point","shape":"M-0.6,0.8L0,0L0.6,0.8","filled":false,"size":484,"angle":-38.7,"color":"black","strokeWidth":1.5,"opacity":1},
   "encoding":{
    "x":{"datum":3.52,"type":"quantitative","scale":{"domain":[0,20]},"axis":{"orient":"bottom","values":[2.5,7.5,12.5,17.5],"labels":false,"tickSize":-10,"title":null,"minExtent":0}},
    "y":{"datum":0.887,"type":"quantitative","scale":{"domain":[0,1]},"axis":{"orient":"left","values":[0.1,0.3,0.5,0.7,0.9],"labels":false,"tickSize":-10,"title":null,"minExtent":0}}}},
  {"data":{"values":[{}]},"mark":{"type":"text","text":"(b)","font":"Liberation Serif","fontStyle":"italic","fontWeight":"bold","fontSize":17,"align":"center","baseline":"middle"},
   "encoding":{
    "x":{"datum":1.39,"type":"quantitative","scale":{"domain":[0,20]},"axis":{"orient":"top","values":[5,10,15],"labels":false,"tickSize":-20,"title":null,"minExtent":0}},
    "y":{"datum":0.89,"type":"quantitative","scale":{"domain":[0,1]},"axis":{"orient":"right","values":[0.2,0.4,0.6,0.8],"labels":false,"tickSize":-20,"title":null,"minExtent":0}}}},
  {"data":{"values":[{}]},"mark":{"type":"text","text":"M","fontSize":21,"align":"left","baseline":"alphabetic"},
   "encoding":{
    "x":{"datum":6.3,"type":"quantitative","scale":{"domain":[0,20]},"axis":{"orient":"top","values":[2.5,7.5,12.5,17.5],"labels":false,"tickSize":-10,"title":null,"minExtent":0}},
    "y":{"datum":0.596,"type":"quantitative","scale":{"domain":[0,1]},"axis":{"orient":"right","values":[0.1,0.3,0.5,0.7,0.9],"labels":false,"tickSize":-10,"title":null,"minExtent":0}}}},
  {"data":{"values":[{}]},"mark":{"type":"text","text":"t","fontSize":15,"align":"left","baseline":"alphabetic"},
   "encoding":{"x":{"datum":6.92,"type":"quantitative","scale":{"domain":[0,20]},"axis":null},"y":{"datum":0.549,"type":"quantitative","scale":{"domain":[0,1]},"axis":null}}},
  {"data":{"values":[{}]},"mark":{"type":"text","text":"0","fontSize":13,"align":"left","baseline":"alphabetic"},
   "encoding":{"x":{"datum":7.1,"type":"quantitative","scale":{"domain":[0,20]},"axis":null},"y":{"datum":0.538,"type":"quantitative","scale":{"domain":[0,1]},"axis":null}}},
  {"data":{"values":[{}]},"mark":{"type":"text","text":"S","fontSize":21,"align":"left","baseline":"alphabetic"},
   "encoding":{"x":{"datum":7.15,"type":"quantitative","scale":{"domain":[0,20]},"axis":null},"y":{"datum":0.596,"type":"quantitative","scale":{"domain":[0,1]},"axis":null}}}
 ],
 "resolve":{"axis":{"x":"independent","y":"independent"}}},
{"width":613,"height":293,
 "layer":[
  {"transform":[{"filter":"datum.p == 'c'"}],
   "mark":{"type":"line","color":"black","strokeWidth":1.6,"interpolate":"monotone"},
   "encoding":{
    "x":{"field":"x","type":"quantitative","scale":{"domain":[0,20]},"axis":{"orient":"bottom","values":[0,5,10,15,20],"format":"~g","ticks":false,"labelPadding":3,"labelFlush":false,"title":"St","titlePadding":0}},
    "y":{"field":"y","type":"quantitative","scale":{"domain":[0,1]},"axis":{"orient":"left","values":[0,0.2,0.4,0.6,0.8],"format":"~g","ticks":false,"title":null,"labelPadding":5,"minExtent":44,"maxExtent":44}},
    "strokeDash":{"field":"k","type":"nominal","scale":{"domain":["K1d/Kd","K2d/Kd","K3d/Kd"],"range":[[1,0],[8,4],[1.5,3]]},"legend":{"title":null,"orient":"none","legendX":261,"legendY":103}},
    "detail":{"field":"c","type":"nominal"}}},
  {"data":{"values":[{}]},"mark":{"type":"rule","color":"black","strokeWidth":1.5},
   "encoding":{
    "x":{"datum":5.9,"type":"quantitative","scale":{"domain":[0,20]},"axis":{"orient":"bottom","values":[5,10,15],"labels":false,"tickSize":-20,"title":null,"minExtent":0}},
    "y":{"datum":0.572,"type":"quantitative","scale":{"domain":[0,1]},"axis":{"orient":"left","values":[0.2,0.4,0.6,0.8],"labels":false,"tickSize":-20,"title":null,"minExtent":0}},
    "x2":{"datum":3.52},"y2":{"datum":0.888}}},
  {"data":{"values":[{}]},"mark":{"type":"point","shape":"M-0.6,0.8L0,0L0.6,0.8","filled":false,"size":484,"angle":-38.7,"color":"black","strokeWidth":1.5,"opacity":1},
   "encoding":{
    "x":{"datum":3.52,"type":"quantitative","scale":{"domain":[0,20]},"axis":{"orient":"bottom","values":[2.5,7.5,12.5,17.5],"labels":false,"tickSize":-10,"title":null,"minExtent":0}},
    "y":{"datum":0.888,"type":"quantitative","scale":{"domain":[0,1]},"axis":{"orient":"left","values":[0.1,0.3,0.5,0.7,0.9],"labels":false,"tickSize":-10,"title":null,"minExtent":0}}}},
  {"data":{"values":[{}]},"mark":{"type":"text","text":"(c)","font":"Liberation Serif","fontStyle":"italic","fontWeight":"bold","fontSize":17,"align":"center","baseline":"middle"},
   "encoding":{
    "x":{"datum":1.39,"type":"quantitative","scale":{"domain":[0,20]},"axis":{"orient":"top","values":[5,10,15],"labels":false,"tickSize":-20,"title":null,"minExtent":0}},
    "y":{"datum":0.891,"type":"quantitative","scale":{"domain":[0,1]},"axis":{"orient":"right","values":[0.2,0.4,0.6,0.8],"labels":false,"tickSize":-20,"title":null,"minExtent":0}}}},
  {"data":{"values":[{}]},"mark":{"type":"text","text":"M","fontSize":21,"align":"left","baseline":"alphabetic"},
   "encoding":{
    "x":{"datum":4.74,"type":"quantitative","scale":{"domain":[0,20]},"axis":{"orient":"top","values":[2.5,7.5,12.5,17.5],"labels":false,"tickSize":-10,"title":null,"minExtent":0}},
    "y":{"datum":0.817,"type":"quantitative","scale":{"domain":[0,1]},"axis":{"orient":"right","values":[0.1,0.3,0.5,0.7,0.9],"labels":false,"tickSize":-10,"title":null,"minExtent":0}}}},
  {"data":{"values":[{}]},"mark":{"type":"text","text":"t","fontSize":15,"align":"left","baseline":"alphabetic"},
   "encoding":{"x":{"datum":5.36,"type":"quantitative","scale":{"domain":[0,20]},"axis":null},"y":{"datum":0.77,"type":"quantitative","scale":{"domain":[0,1]},"axis":null}}},
  {"data":{"values":[{}]},"mark":{"type":"text","text":"0","fontSize":13,"align":"left","baseline":"alphabetic"},
   "encoding":{"x":{"datum":5.54,"type":"quantitative","scale":{"domain":[0,20]},"axis":null},"y":{"datum":0.76,"type":"quantitative","scale":{"domain":[0,1]},"axis":null}}},
  {"data":{"values":[{}]},"mark":{"type":"text","text":"S","fontSize":21,"align":"left","baseline":"alphabetic"},
   "encoding":{"x":{"datum":5.6,"type":"quantitative","scale":{"domain":[0,20]},"axis":null},"y":{"datum":0.817,"type":"quantitative","scale":{"domain":[0,1]},"axis":null}}}
 ],
 "resolve":{"axis":{"x":"independent","y":"independent"}}}
],
"spacing":0,
"bounds":"flush",
"resolve":{"scale":{"strokeDash":"independent"},"legend":{"strokeDash":"independent"}},
"config":{
 "view":{"stroke":"black","strokeWidth":2},
 "axis":{"labelFont":"Liberation Serif","labelFontSize":27,"labelColor":"black","titleFont":"Liberation Serif","titleFontSize":26,"titleFontWeight":"normal","titleColor":"black","tickColor":"black","tickWidth":2,"grid":false,"domain":false,"labelFlush":false},
 "legend":{"strokeColor":"black","strokeWidth":1.5,"padding":9,"symbolType":"stroke","symbolSize":1764,"symbolStrokeWidth":1.5,"symbolStrokeColor":"black","labelFont":"Liberation Serif","labelFontSize":18,"labelColor":"black","labelOffset":20,"rowPadding":0},
 "text":{"font":"Liberation Sans","color":"black"}
}
}
